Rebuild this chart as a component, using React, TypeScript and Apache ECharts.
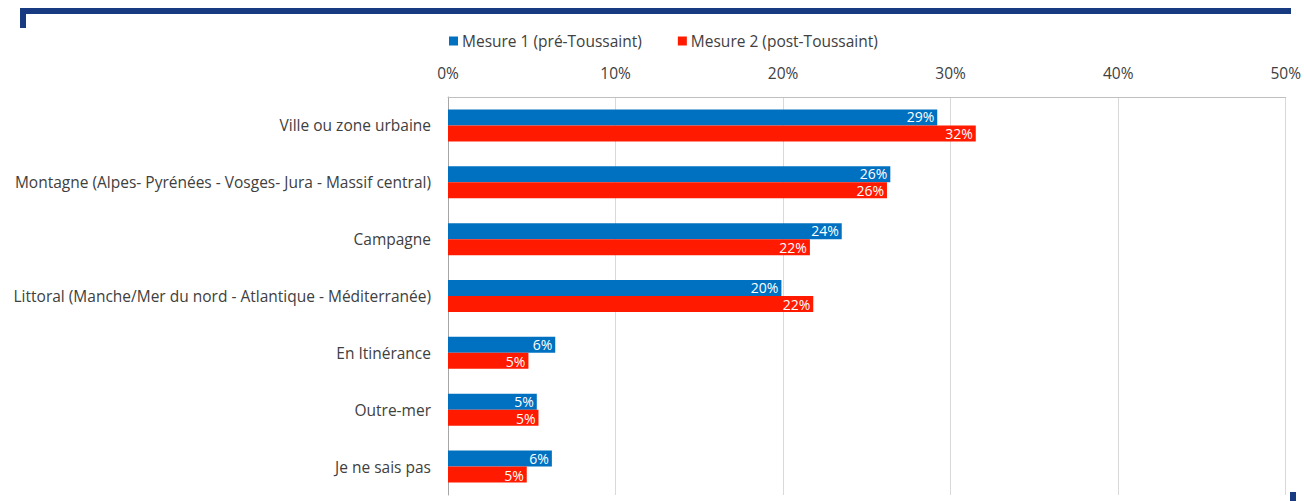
import React, { useEffect, useRef } from "react";
import * as echarts from "echarts";

const categories = [
  "Ville ou zone urbaine",
  "Montagne (Alpes- Pyrénées - Vosges- Jura - Massif central)",
  "Campagne",
  "Littoral (Manche/Mer du nord - Atlantique - Méditerranée)",
  "En Itinérance",
  "Outre-mer",
  "Je ne sais pas",
];
const seriesNames = ["Mesure 1 (pré-Toussaint)", "Mesure 2 (post-Toussaint)"];
const mesure1 = [29.2, 26.4, 23.5, 19.9, 6.4, 5.3, 6.2];
const mesure2 = [31.5, 26.2, 21.6, 21.8, 4.8, 5.4, 4.7];
const mesure1Labels = ["29%", "26%", "24%", "20%", "6%", "5%", "6%"];
const mesure2Labels = ["32%", "26%", "22%", "22%", "5%", "5%", "5%"];

const FONT = "'Open Sans', sans-serif";
const FS = 15.5;
const LFS = 14;

export default function App() {
  const ref = useRef<HTMLDivElement>(null);
  useEffect(() => {
    if (!ref.current) return;
    const chart = echarts.init(ref.current, undefined, { renderer: "svg" });
    const navy = "#173a80";
    chart.setOption({
      animation: false,
      textStyle: { fontFamily: FONT },
      legend: {
        top: 33,
        left: 449,
        padding: 0,
        itemWidth: 9,
        itemHeight: 9,
        itemGap: 36,
        icon: "rect",
        textStyle: { fontFamily: FONT, fontSize: FS, color: "#404040", padding: [0, 0, 0, -1] },
        data: seriesNames,
      },
      grid: { left: 448, right: 15, top: 97, bottom: 6, containLabel: false },
      xAxis: {
        type: "value",
        position: "top",
        min: 0,
        max: 50,
        interval: 10,
        axisLine: { show: true, lineStyle: { color: "#bfbfbf" } },
        axisTick: { show: false },
        splitLine: { show: true, lineStyle: { color: "#d9d9d9" } },
        axisLabel: {
          formatter: "{value}%",
          color: "#404040",
          fontFamily: FONT,
          fontSize: FS,
          margin: 16,
        },
      },
      yAxis: {
        type: "category",
        inverse: true,
        data: categories,
        axisLine: { show: true, lineStyle: { color: "#a6a6a6" } },
        axisTick: { show: false },
        axisLabel: { color: "#404040", fontFamily: FONT, fontSize: FS, margin: 17 },
      },
      series: [
        {
          name: seriesNames[0],
          type: "bar",
          data: mesure1,
          barWidth: 16,
          barGap: "0%",
          itemStyle: { color: "#0070c0" },
          label: {
            show: true,
            position: "insideRight",
            color: "#ffffff",
            fontFamily: FONT,
            fontSize: LFS,
            lineHeight: 14,
            offset: [2, -0.5],
            formatter: (p: any) => mesure1Labels[p.dataIndex],
          },
        },
        {
          name: seriesNames[1],
          type: "bar",
          data: mesure2,
          barWidth: 16,
          barGap: "0%",
          itemStyle: { color: "#ff1a00" },
          label: {
            show: true,
            position: "insideRight",
            color: "#ffffff",
            fontFamily: FONT,
            fontSize: LFS,
            lineHeight: 14,
            offset: [2, 0.5],
            formatter: (p: any) => mesure2Labels[p.dataIndex],
          },
        },
      ],
      graphic: [
        { type: "rect", left: 20, top: 8, shape: { width: 1271, height: 6 }, style: { fill: navy }, silent: true },
        { type: "rect", left: 20, top: 8, shape: { width: 6, height: 20 }, style: { fill: navy }, silent: true },
        { type: "rect", left: 1290, top: 492, shape: { width: 6, height: 9 }, style: { fill: navy }, silent: true },
      ],
    });
    return () => chart.dispose();
  }, []);
  return (
    <div
      ref={ref}
      style={{ width: 1304, height: 501, position: "absolute", left: 0, top: 0 }}
    />
  );
}
